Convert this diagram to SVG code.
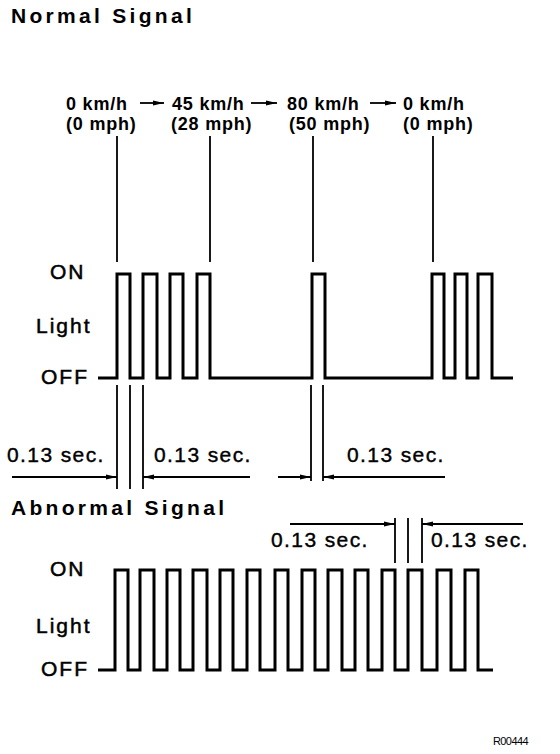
<svg xmlns="http://www.w3.org/2000/svg" width="560" height="754" viewBox="0 0 560 754">
<style>
.t{font-family:"Liberation Sans",Arial,sans-serif;fill:#000}
.title{font-size:21px;font-weight:bold;letter-spacing:3.3px}
.spd{font-size:18px;font-weight:bold;letter-spacing:0.8px}
.lvl{font-size:21px;letter-spacing:2px;stroke:#000;stroke-width:0.5px}
.sec{font-size:21px;letter-spacing:1.4px;stroke:#000;stroke-width:0.4px}
.wave{fill:none;stroke:#000;stroke-width:3;stroke-linejoin:miter}
.ln{stroke:#000;stroke-width:1.8;fill:none}
.dim{stroke:#000;stroke-width:1.8;fill:none}
</style>
<defs>
<marker id="ah" markerWidth="12" markerHeight="8" refX="11" refY="4" orient="auto" markerUnits="userSpaceOnUse">
<path d="M0,1.5 L11,4 L0,6.5 Z" fill="#000"/>
</marker>
</defs>
<rect width="560" height="754" fill="#fff"/>

<g id="normal-title"><text class="t title" x="11" y="23">Normal Signal</text></g>

<g id="speed-labels">
<text class="t spd" x="66" y="110">0 km/h</text>
<text class="t spd" x="172" y="110">45 km/h</text>
<text class="t spd" x="287" y="110">80 km/h</text>
<text class="t spd" x="403" y="110">0 km/h</text>
<text class="t spd" x="66" y="130">(0 mph)</text>
<text class="t spd" x="171" y="130">(28 mph)</text>
<text class="t spd" x="289" y="130">(50 mph)</text>
<text class="t spd" x="403" y="130">(0 mph)</text>
</g>

<g id="connectors">
<line class="ln" x1="140" y1="103" x2="164" y2="103" marker-end="url(#ah)"/>
<line class="ln" x1="251" y1="103" x2="277" y2="103" marker-end="url(#ah)"/>
<line class="ln" x1="370" y1="103" x2="396" y2="103" marker-end="url(#ah)"/>
<line class="ln" x1="117" y1="136" x2="117" y2="262"/>
<line class="ln" x1="210" y1="136" x2="210" y2="262"/>
<line class="ln" x1="313" y1="136" x2="313" y2="262"/>
<line class="ln" x1="433" y1="136" x2="433" y2="262"/>
</g>

<g id="normal-levels">
<text class="t lvl" x="50" y="279">ON</text>
<text class="t lvl" x="36" y="333">Light</text>
<text class="t lvl" x="41" y="384">OFF</text>
</g>

<g id="normal-wave">
<path class="wave" d="M98,378 H117 V274 H130 V378 H143 V274 H157 V378 H170 V274 H183 V378 H197 V274 H210 V378 H312 V274 H325 V378 H432 V274 H444 V378 H455 V274 H467 V378 H478 V274 H492 V378 H513"/>
</g>

<g id="normal-dim-1">
<line class="ln" x1="117" y1="385" x2="117" y2="489"/>
<line class="ln" x1="130" y1="385" x2="130" y2="489"/>
<line class="ln" x1="143" y1="385" x2="143" y2="489"/>
<line class="dim" x1="12" y1="477" x2="117" y2="477" marker-end="url(#ah)"/>
<line class="dim" x1="250" y1="477" x2="143" y2="477" marker-end="url(#ah)"/>
<text class="t sec" x="7" y="462">0.13 sec.</text>
<text class="t sec" x="154" y="462">0.13 sec.</text>
</g>

<g id="normal-dim-2">
<line class="ln" x1="311" y1="385" x2="311" y2="481"/>
<line class="ln" x1="323" y1="385" x2="323" y2="481"/>
<line class="dim" x1="278" y1="477" x2="311" y2="477" marker-end="url(#ah)"/>
<line class="dim" x1="445" y1="477" x2="323" y2="477" marker-end="url(#ah)"/>
<text class="t sec" x="347" y="462">0.13 sec.</text>
</g>

<g id="abnormal-title"><text class="t title" x="11" y="515">Abnormal Signal</text></g>

<g id="abnormal-dim">
<line class="ln" x1="395" y1="518" x2="395" y2="563"/>
<line class="ln" x1="408" y1="518" x2="408" y2="563" stroke-width="1.2"/>
<line class="ln" x1="422" y1="518" x2="422" y2="563"/>
<line class="dim" x1="290" y1="524" x2="395" y2="524" marker-end="url(#ah)"/>
<line class="dim" x1="523" y1="524" x2="422" y2="524" marker-end="url(#ah)"/>
<text class="t sec" x="271" y="547">0.13 sec.</text>
<text class="t sec" x="431" y="547">0.13 sec.</text>
</g>

<g id="abnormal-levels">
<text class="t lvl" x="50" y="576">ON</text>
<text class="t lvl" x="36" y="633">Light</text>
<text class="t lvl" x="41" y="676">OFF</text>
</g>

<g id="abnormal-wave">
<path class="wave" d="M98,670 H115 V570 H128 V670 H140 V570 H154 V670 H167 V570 H180 V670 H193 V570 H207 V670 H220 V570 H233 V670 H247 V570 H260 V670 H275 V570 H288 V670 H302 V570 H315 V670 H328 V570 H342 V670 H355 V570 H368 V670 H382 V570 H395 V670 H408 V570 H422 V670 H437 V570 H451 V670 H465 V570 H478 V670 H493"/>
</g>

<g id="footer"><text class="t" x="493" y="745" font-size="11" letter-spacing="-0.6">R00444</text></g>
</svg>
